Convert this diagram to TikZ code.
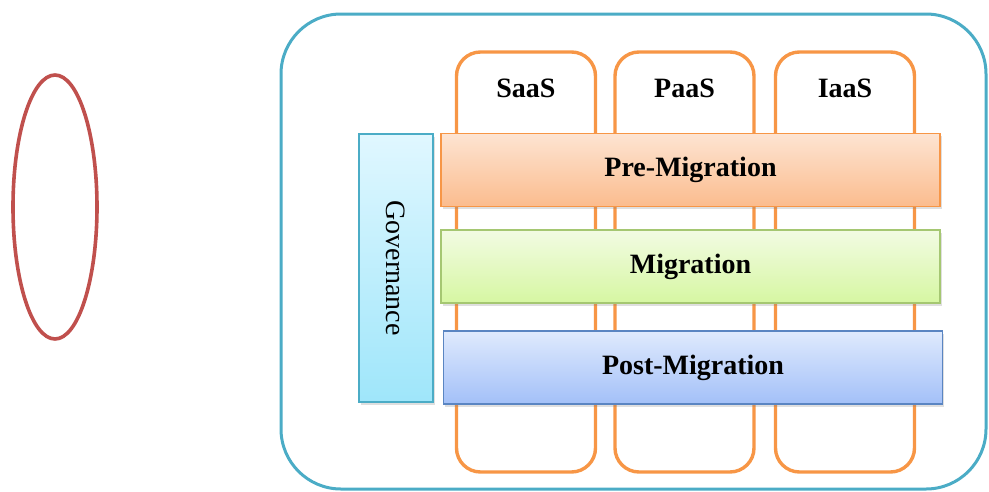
\documentclass[tikz,border=0pt]{standalone}
\usepackage{fontspec}
\setmainfont{Liberation Serif}
\usetikzlibrary{shapes.geometric,shadows}
\definecolor{orangeln}{HTML}{F79646}
\definecolor{tealln}{HTML}{4BACC6}
\definecolor{redln}{HTML}{C0504D}
\definecolor{greenln}{HTML}{A5C772}
\definecolor{blueln}{HTML}{5A85C2}
\definecolor{pretop}{HTML}{FDE4D2}
\definecolor{prebot}{HTML}{FBBC8E}
\definecolor{migtop}{HTML}{F2FBE3}
\definecolor{migbot}{HTML}{D6F7A2}
\definecolor{posttop}{HTML}{DFEAFD}
\definecolor{postbot}{HTML}{A3C0F8}
\definecolor{govtop}{HTML}{E0F7FF}
\definecolor{govbot}{HTML}{9FE6FA}
\tikzset{
  colbox/.style={draw=orangeln, line width=3.4pt, rounded corners=24pt, minimum width=139pt, minimum height=420pt, fill=white},
  coltext/.style={font=\fontsize{28}{30}\selectfont\bfseries},
  bar/.style={line width=1.3pt, minimum width=499pt, minimum height=73pt, font=\fontsize{28}{30}\selectfont\bfseries,
     drop shadow={opacity=0.25, shadow xshift=1.5pt, shadow yshift=-2.5pt}},
  govbox/.style={draw=tealln, line width=1.3pt, minimum width=74pt, minimum height=268pt, top color=govtop, bottom color=govbot,
     drop shadow={opacity=0.25, shadow xshift=1.5pt, shadow yshift=-2.5pt}},
}
\begin{document}
\begin{tikzpicture}[x=1pt,y=-1pt]
\useasboundingbox (0,0) rectangle (989,491);
% ellipse
\node[ellipse, draw=redln, line width=3.6pt, minimum width=84pt, minimum height=264pt, inner sep=0pt] (ell) at (55,207) {};
% outer frame
\draw[tealln, line width=3pt, rounded corners=60pt] (281,14) rectangle (986,489);
\node[inner sep=0pt, minimum size=0pt] (frame) at (633,251) {};
% columns
\node[colbox] (saas) at (526,262) {};
\node[colbox] (paas) at (684.5,262) {};
\node[colbox] (iaas) at (845,262) {};
\node[coltext] (saast) at (526,88) {SaaS};
\node[coltext] (paast) at (684.5,88) {PaaS};
\node[coltext] (iaast) at (845,88) {IaaS};
% bars
\node[bar, draw=orangeln, top color=pretop, bottom color=prebot] (pre) at (690.5,170) {Pre-Migration};
\node[bar, draw=greenln, top color=migtop, bottom color=migbot] (mig) at (690.5,266.5) {Migration};
\node[bar, draw=blueln, top color=posttop, bottom color=postbot] (post) at (693,367.5) {Post-Migration};
% governance
\node[govbox] (gov) at (396,268) {};
\node[rotate=-90, font=\fontsize{28}{30}\selectfont] (govt) at (gov.center) {Governance};
\end{tikzpicture}
\end{document}
